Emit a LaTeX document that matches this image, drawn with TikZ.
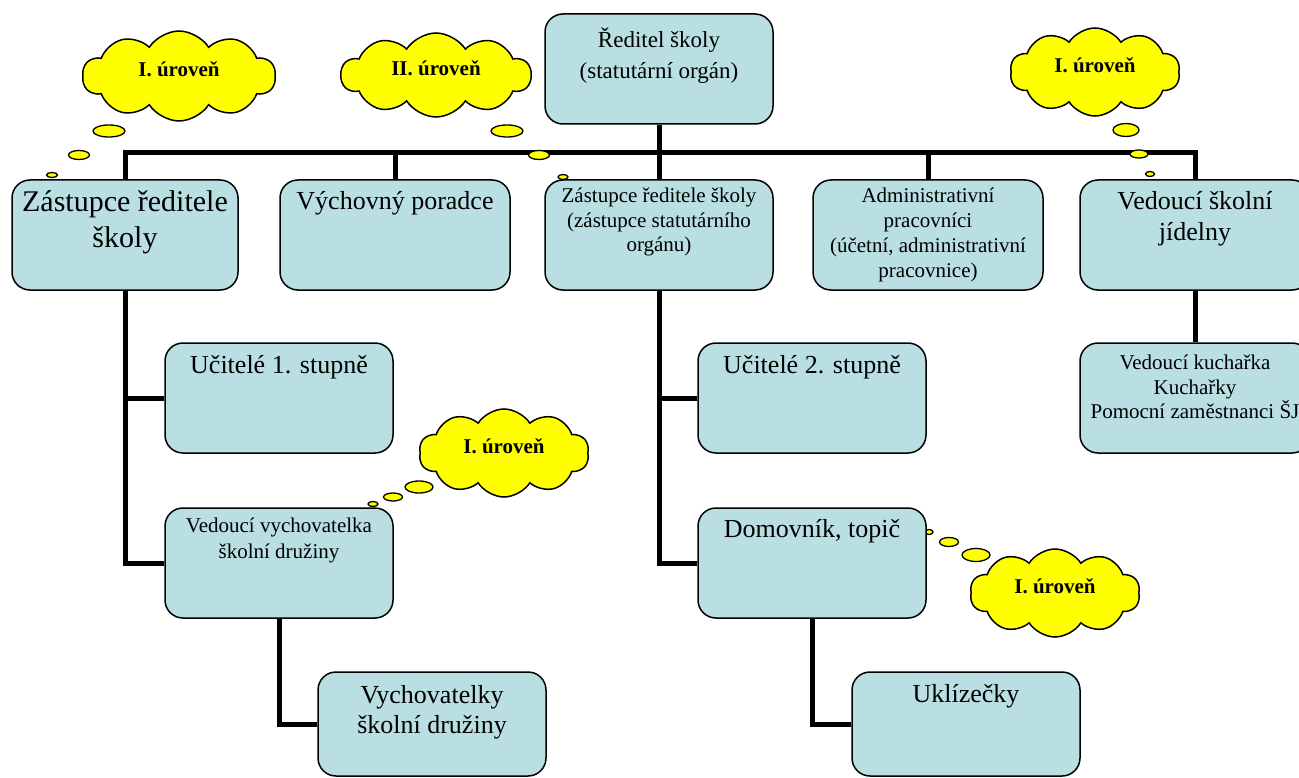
\documentclass[tikz,border=0pt]{standalone}
\usepackage{fontspec}
\setmainfont{Liberation Serif}
\usetikzlibrary{shapes.symbols,backgrounds}
\definecolor{boxblue}{RGB}{185,223,227}
\definecolor{thoughtyellow}{RGB}{255,255,0}
\tikzset{
  box/.style={draw=black, line width=1.5pt, fill=boxblue, rounded corners=18pt,
    minimum width=228pt, minimum height=110pt, inner sep=0pt},
  txt/.style={align=center, inner sep=0pt},
  conn/.style={line width=5pt},
  thought/.style={cloud, cloud puffs=10, cloud puff arc=115, cloud ignores aspect,
    draw=black, line width=1.5pt, fill=thoughtyellow, inner sep=0pt, text depth=14pt,
    font=\fontsize{21}{24}\selectfont\bfseries},
  bubble/.style={draw=black, line width=1.3pt, fill=thoughtyellow}
}
\begin{document}
\begin{tikzpicture}[x=1pt,y=-1pt]
\useasboundingbox (0,0) rectangle (1299,778);
% boxes
\node[box] (rs) at (659,69) {};
\node[txt,font=\fontsize{23}{31}\selectfont] (rst) at (659,56) {Ředitel školy\\(statutární orgán)};
\node[box,minimum width=226pt] (zr1) at (125,235) {};
\node[txt,font=\fontsize{30}{36}\selectfont] (zr1t) at (125,222) {Zástupce ředitele\\školy};
\node[box,minimum width=230pt] (vp) at (395,235) {};
\node[txt,font=\fontsize{26}{31}\selectfont] (vpt) at (395,203) {Výchovný poradce};
\node[box] (zr2) at (659,235) {};
\node[txt,font=\fontsize{21}{24.5}\selectfont] (zr2t) at (659,222) {Zástupce ředitele školy\\(zástupce statutárního\\orgánu)};
\node[box,minimum width=230pt] (adm) at (928,235) {};
\node[txt,font=\fontsize{21}{25}\selectfont] (admt) at (928,235) {Administrativní\\pracovníci\\(účetní, administrativní\\pracovnice)};
\node[box,minimum width=230pt] (vsj) at (1195,235) {};
\node[txt,font=\fontsize{26}{31}\selectfont] (vsjt) at (1195,219) {Vedoucí školní\\jídelny};
\node[box] (u1) at (279,398) {};
\node[txt,font=\fontsize{26}{31}\selectfont] (u1t) at (279,367) {Učitelé 1. stupně};
\node[box] (u2) at (812,398) {};
\node[txt,font=\fontsize{26}{31}\selectfont] (u2t) at (812,367) {Učitelé 2. stupně};
\node[box,minimum width=230pt] (kuch) at (1195,398) {};
\node[txt,font=\fontsize{21}{24.5}\selectfont] (kucht) at (1195,387) {Vedoucí kuchařka\\Kuchařky\\Pomocní zaměstnanci ŠJ};
\node[box] (vv) at (279,563) {};
\node[txt,font=\fontsize{21}{26}\selectfont] (vvt) at (279,540) {Vedoucí vychovatelka\\školní družiny};
\node[box] (dom) at (812,563) {};
\node[txt,font=\fontsize{26}{31}\selectfont] (domt) at (812,531) {Domovník, topič};
\node[box,minimum height=104pt] (vych) at (432,724) {};
\node[txt,font=\fontsize{26}{30}\selectfont] (vycht) at (432,712) {Vychovatelky\\školní družiny};
\node[box,minimum height=104pt] (ukl) at (966,724) {};
\node[txt,font=\fontsize{26}{31}\selectfont] (uklt) at (966,696) {Uklízečky};
% connectors and bubbles behind
\begin{scope}[on background layer]
\foreach \n in {zr1,vp,zr2,adm,vsj}
  \draw[conn] (rs.south) -- ++(0,28) -| (\n.north);
\foreach \n in {u1,vv}
  \draw[conn] (zr1.south) |- (\n.west);
\foreach \n in {u2,dom}
  \draw[conn] (zr2.south) |- (\n.west);
\draw[conn] (vsj.south) -- (kuch.north);
\draw[conn] (vv.south) |- (vych.west);
\draw[conn] (dom.south) |- (ukl.west);
% thought bubbles
\draw[bubble] (109,131) ellipse [x radius=16, y radius=6];
\draw[bubble] (79,155) ellipse [x radius=10.5, y radius=4.5];
\draw[bubble] (52,175) ellipse [x radius=5.5, y radius=2.5];
\draw[bubble] (507,131) ellipse [x radius=16, y radius=6];
\draw[bubble] (539,155) ellipse [x radius=10.5, y radius=4.5];
\draw[bubble] (563,177) ellipse [x radius=5, y radius=2.5];
\draw[bubble] (1126,130) ellipse [x radius=13, y radius=6.5];
\draw[bubble] (1139,154) ellipse [x radius=9, y radius=4];
\draw[bubble] (1150,174) ellipse [x radius=4.5, y radius=2.5];
\draw[bubble] (419,487) ellipse [x radius=14, y radius=6];
\draw[bubble] (393,497) ellipse [x radius=9.5, y radius=4];
\draw[bubble] (373,504) ellipse [x radius=5, y radius=2.5];
\draw[bubble] (976,555) ellipse [x radius=14, y radius=6.5];
\draw[bubble] (949,542) ellipse [x radius=9.5, y radius=4.5];
\draw[bubble] (929,532) ellipse [x radius=4, y radius=2.5];
\end{scope}
% clouds
\node[thought,minimum width=193pt,minimum height=90pt] (lvl1a) at (179,76) {I. úroveň};
\node[thought,minimum width=190pt,minimum height=84pt] (lvl2) at (436,75) {II. úroveň};
\node[thought,minimum width=170pt,minimum height=88pt] (lvl1b) at (1095,72) {I. úroveň};
\node[thought,minimum width=170pt,minimum height=88pt] (lvl1c) at (504,453) {I. úroveň};
\node[thought,minimum width=170pt,minimum height=88pt] (lvl1d) at (1055,593) {I. úroveň};
\end{tikzpicture}
\end{document}
